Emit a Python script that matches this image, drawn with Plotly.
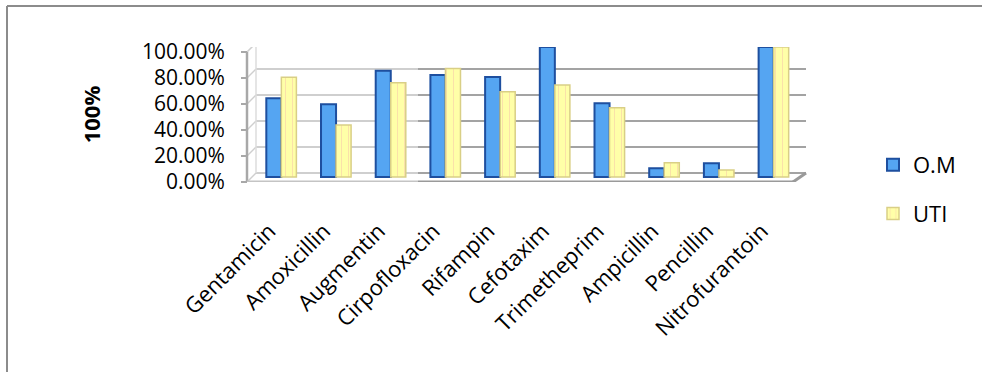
import plotly.graph_objects as go

# Resistance rates per antibiotic for otitis media (O.M) and urinary tract infection (UTI) isolates
antibiotics = ["Gentamicin", "Amoxicillin", "Augmentin", "Cirpofloxacin", "Rifampin",
               "Cefotaxim", "Trimetheprim", "Ampicillin", "Pencillin", "Nitrofurantoin"]
om_values = [0.605, 0.56, 0.818, 0.785, 0.77, 1.00, 0.567, 0.067, 0.105, 1.00]
uti_values = [0.767, 0.40, 0.725, 0.835, 0.656, 0.708, 0.533, 0.11, 0.054, 1.00]
grid_values = [0.0, 0.2, 0.4, 0.6, 0.8, 1.0]
series_names = ["O.M", "UTI"]

W, H = 982, 372
FONT = "Open Sans"


def fx(px):
    return px / W


def fy(py):
    return 1 - py / H


# pseudo-3D geometry (pixels)
FLOOR_Y, TOP_Y = 177, 47          # bar base and 100% level
SCALE = FLOOR_Y - TOP_Y           # pixels per 100%
BACK_SHIFT = 4 / SCALE            # back wall sits a little above bar base
FRONT_SHIFT = 5 / SCALE           # front axis sits a little below bar base
FRONT_X, WALL_X0, WALL_X1 = 247, 256, 806
FLOOR_FRONT_X1 = 793
SCAN_SPLIT_X = 418                # lighter toned area on the left of the chart

fig = go.Figure()

fig.add_trace(go.Bar(
    x=antibiotics, y=om_values, name=series_names[0],
    marker=dict(color="#55a5f2", line=dict(color="#1e4f9f", width=2)),
    legendgroup="om",
))
fig.add_trace(go.Bar(
    x=antibiotics, y=uti_values, name=series_names[1],
    marker=dict(color="#ffffa8", line=dict(color="#d9cf86", width=1.5),
                pattern=dict(shape="|", size=7, solidity=0.12,
                             fgcolor="#f2b7a8", bgcolor="#ffffa8")),
    legendgroup="uti",
))
# empty trace so the label axis on the front edge is rendered
fig.add_trace(go.Scatter(x=[], y=[], yaxis="y2", showlegend=False, hoverinfo="skip"))

shapes = []
grid_light, grid_dark = "#cfcfcf", "#a3a3a3"
for v in grid_values:
    yb = v + BACK_SHIFT
    yf = v - FRONT_SHIFT
    # back wall gridline, lighter on the left part
    shapes.append(dict(type="line", xref="paper", yref="y",
                       x0=fx(WALL_X0), x1=fx(SCAN_SPLIT_X), y0=yb, y1=yb,
                       line=dict(color=grid_light, width=2), layer="below"))
    shapes.append(dict(type="line", xref="paper", yref="y",
                       x0=fx(SCAN_SPLIT_X), x1=fx(WALL_X1), y0=yb, y1=yb,
                       line=dict(color=grid_dark, width=2), layer="below"))
    # side wall connector from the front axis to the back wall
    shapes.append(dict(type="line", xref="paper", yref="y",
                       x0=fx(FRONT_X), x1=fx(WALL_X0), y0=yf, y1=yb,
                       line=dict(color=grid_light, width=1.5), layer="below"))

# back wall left edge
shapes.append(dict(type="line", xref="paper", yref="y",
                   x0=fx(WALL_X0), x1=fx(WALL_X0), y0=BACK_SHIFT, y1=1 + BACK_SHIFT,
                   line=dict(color="#dcdcdc", width=1.5), layer="below"))
# front axis line
shapes.append(dict(type="line", xref="paper", yref="y",
                   x0=fx(FRONT_X), x1=fx(FRONT_X), y0=-FRONT_SHIFT, y1=1 - FRONT_SHIFT,
                   line=dict(color="#a8a8a8", width=2.5)))
# floor front edge
shapes.append(dict(type="line", xref="paper", yref="y",
                   x0=fx(FRONT_X), x1=fx(SCAN_SPLIT_X), y0=-FRONT_SHIFT, y1=-FRONT_SHIFT,
                   line=dict(color="#c4c4c4", width=3)))
shapes.append(dict(type="line", xref="paper", yref="y",
                   x0=fx(SCAN_SPLIT_X), x1=fx(FLOOR_FRONT_X1), y0=-FRONT_SHIFT, y1=-FRONT_SHIFT,
                   line=dict(color="#9a9a9a", width=3)))
# floor right edge
shapes.append(dict(type="line", xref="paper", yref="y",
                   x0=fx(FLOOR_FRONT_X1), x1=fx(WALL_X1), y0=-FRONT_SHIFT, y1=BACK_SHIFT,
                   line=dict(color="#9a9a9a", width=3)))
# outer chart frame (left and top edges)
shapes.append(dict(type="line", xref="paper", yref="paper",
                   x0=fx(7), x1=fx(7), y0=0, y1=fy(6),
                   line=dict(color="#8c8c8c", width=2)))
shapes.append(dict(type="line", xref="paper", yref="paper",
                   x0=fx(7), x1=1, y0=fy(6), y1=fy(6),
                   line=dict(color="#8c8c8c", width=2)))

fig.update_layout(
    width=W, height=H,
    margin=dict(l=0, r=0, t=0, b=0, autoexpand=False),
    paper_bgcolor="white", plot_bgcolor="rgba(0,0,0,0)",
    font=dict(family=FONT, color="#000000", size=21),
    barmode="group", bargap=0.45, bargroupgap=0.0,
    shapes=shapes,
    xaxis=dict(domain=[fx(254), fx(801)], showgrid=False, zeroline=False,
               showline=False, ticks="", tickangle=-45, automargin=False,
               tickfont=dict(family=FONT, size=22), ticklabelstandoff=31,
               ticklabelshift=-12),
    # bar axis: base at FLOOR_Y, extended slightly below so the front edge fits
    yaxis=dict(domain=[fy(FLOOR_Y + 5), fy(TOP_Y)], range=[-FRONT_SHIFT, 1],
               showgrid=False, zeroline=False, showline=False, automargin=False,
               showticklabels=False, ticks=""),
    # label axis on the front edge of the floor
    yaxis2=dict(overlaying="y", anchor="free", position=fx(FRONT_X), side="left",
                range=[0, 1 + FRONT_SHIFT], automargin=False,
                tickvals=grid_values, tickformat=".2%",
                ticks="outside", ticklen=6, tickwidth=2, tickcolor="#a8a8a8",
                showgrid=False, zeroline=False, showline=False,
                tickfont=dict(family=FONT, size=21), ticklabelstandoff=12,
                title=dict(text="<b>100%</b>", font=dict(family=FONT, size=22),
                           standoff=34)),
    legend=dict(x=fx(873), y=fy(144), xanchor="left", yanchor="top",
                font=dict(family=FONT, size=22), tracegroupgap=17,
                bgcolor="rgba(0,0,0,0)"),
)

fig.write_html("out.html")
